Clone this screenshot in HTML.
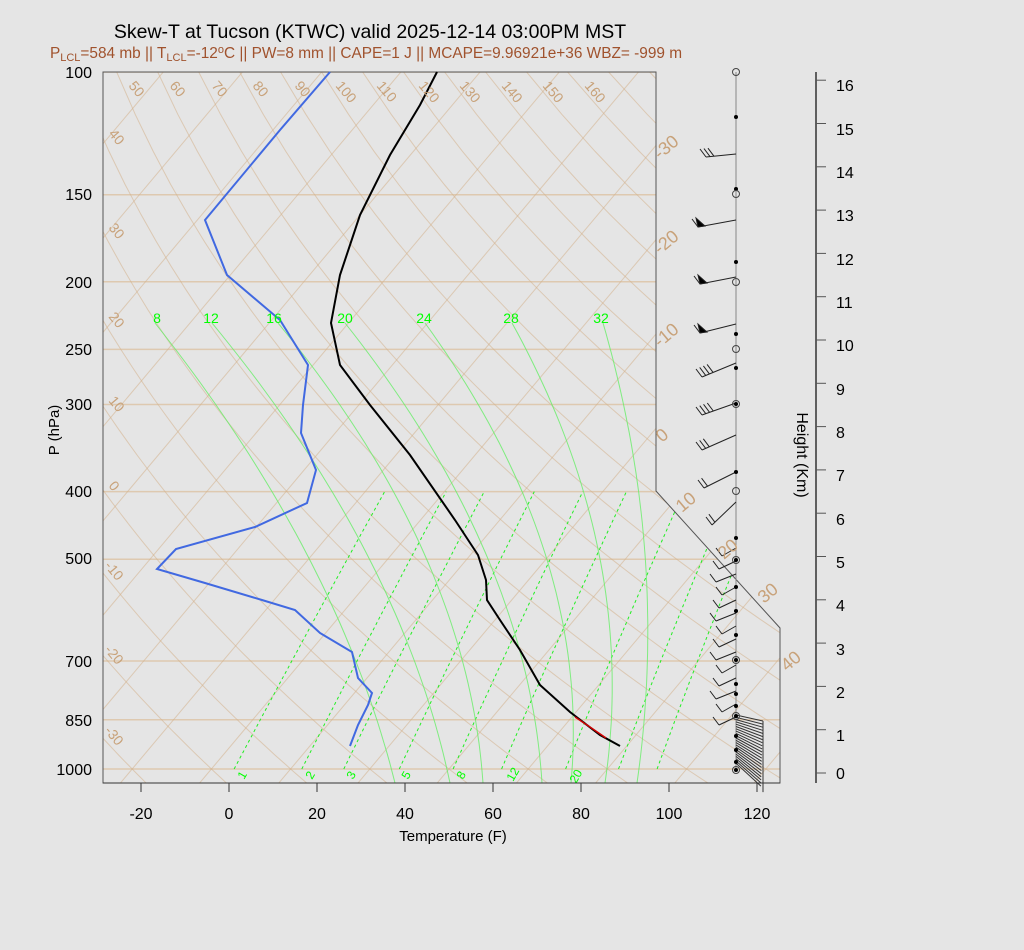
<!DOCTYPE html>
<html><head><meta charset="utf-8"><style>
body{margin:0;background:#e5e5e5;}
svg{display:block;font-family:"Liberation Sans",sans-serif;}
</style></head><body>
<svg id="s" width="1024" height="950" viewBox="0 0 1024 950" xmlns="http://www.w3.org/2000/svg">
<rect width="1024" height="950" fill="#e5e5e5"/>
<defs><clipPath id="cp"><polygon points="103,72 656,72 656,491 780,628 780,783 103,783"/></clipPath></defs>
<g id="grid" clip-path="url(#cp)"></g>
<polygon points="103,72 656,72 656,491 780,628 780,783 103,783" fill="none" stroke="#555" stroke-width="1"/>
<line x1="736" y1="72" x2="736" y2="772" stroke="#888" stroke-width="1"/>
<g id="barbs" stroke="#222" stroke-width="1" fill="none"></g>
<polyline fill="none" stroke="#4169e1" stroke-width="2" points="330,72 280,130 205,220 227,275 280,320 308,365 303,405 301,433 316,470 307,503 255,527 176,549 157,569 205,583 262,600 295,610 320,633 352,652 358,678 372,693 368,705 358,725 350,746"/>
<polyline fill="none" stroke="#000" stroke-width="2" points="437,72 420,105 390,155 360,215 340,275 331,323 340,365 370,405 410,455 455,520 478,555 486,580 487,600 500,620 520,650 540,685 570,712 600,735 620,746"/>
<polyline fill="none" stroke="#d00000" stroke-width="1.5" points="575,717 590,727 606,738"/>
<g fill="#c8a27a" font-size="14">
<text transform="translate(128,86) rotate(50)">50</text>
<text transform="translate(169,86) rotate(50)">60</text>
<text transform="translate(211,86) rotate(50)">70</text>
<text transform="translate(252,86) rotate(50)">80</text>
<text transform="translate(294,86) rotate(50)">90</text>
<text transform="translate(335,86) rotate(50)">100</text>
<text transform="translate(376,86) rotate(50)">110</text>
<text transform="translate(418,86) rotate(50)">120</text>
<text transform="translate(459,86) rotate(50)">130</text>
<text transform="translate(501,86) rotate(50)">140</text>
<text transform="translate(542,86) rotate(50)">150</text>
<text transform="translate(584,86) rotate(50)">160</text>
<text transform="translate(108,134) rotate(50)">40</text>
<text transform="translate(108,228) rotate(50)">30</text>
<text transform="translate(108,317) rotate(50)">20</text>
<text transform="translate(108,401) rotate(50)">10</text>
<text transform="translate(108,486) rotate(50)">0</text>
<text transform="translate(104,566) rotate(50)">-10</text>
<text transform="translate(104,650) rotate(50)">-20</text>
<text transform="translate(104,731) rotate(50)">-30</text>
</g>
<g fill="#c8a27a" font-size="18">
<text transform="translate(660,160) rotate(-40)">-30</text>
<text transform="translate(660,255) rotate(-40)">-20</text>
<text transform="translate(660,348) rotate(-40)">-10</text>
<text transform="translate(662,443) rotate(-40)">0</text>
<text transform="translate(682,513) rotate(-40)">10</text>
<text transform="translate(724,560) rotate(-40)">20</text>
<text transform="translate(764,604) rotate(-40)">30</text>
<text transform="translate(787,672) rotate(-40)">40</text>
</g>
<g fill="#00ff00" font-size="14" text-anchor="middle">
<text x="157" y="323">8</text><text x="211" y="323">12</text><text x="274" y="323">16</text><text x="345" y="323">20</text><text x="424" y="323">24</text><text x="511" y="323">28</text><text x="601" y="323">32</text>
</g>
<g fill="#00ff00" font-size="12">
<text transform="translate(244,780) rotate(-60)">1</text>
<text transform="translate(312,780) rotate(-60)">2</text>
<text transform="translate(353,780) rotate(-60)">3</text>
<text transform="translate(408,780) rotate(-60)">5</text>
<text transform="translate(463,780) rotate(-60)">8</text>
<text transform="translate(513,782) rotate(-60)">12</text>
<text transform="translate(576,784) rotate(-60)">20</text>
</g>
<g stroke="#333" stroke-width="1">
<line x1="103" y1="783" x2="780" y2="783"/>
<line x1="141" y1="783" x2="141" y2="792"/><line x1="229" y1="783" x2="229" y2="792"/><line x1="317" y1="783" x2="317" y2="792"/><line x1="405" y1="783" x2="405" y2="792"/><line x1="493" y1="783" x2="493" y2="792"/><line x1="581" y1="783" x2="581" y2="792"/><line x1="669" y1="783" x2="669" y2="792"/><line x1="757" y1="783" x2="757" y2="792"/>
<line x1="816" y1="72" x2="816" y2="783" stroke-width="1.5"/>
</g>
<g id="hticks" stroke="#555"></g>
<g font-size="16" text-anchor="middle" fill="#000">
<text x="141" y="819">-20</text><text x="229" y="819">0</text><text x="317" y="819">20</text><text x="405" y="819">40</text><text x="493" y="819">60</text><text x="581" y="819">80</text><text x="669" y="819">100</text><text x="757" y="819">120</text>
</g>
<text x="453" y="841" font-size="15" text-anchor="middle">Temperature (F)</text>
<g font-size="16" text-anchor="end">
<text x="92" y="78">100</text><text x="92" y="200">150</text><text x="92" y="288">200</text><text x="92" y="355">250</text><text x="92" y="410">300</text><text x="92" y="497">400</text><text x="92" y="564">500</text><text x="92" y="667">700</text><text x="92" y="726">850</text><text x="92" y="775">1000</text>
</g>
<text transform="translate(59,430) rotate(-90)" font-size="15" text-anchor="middle">P (hPa)</text>
<text transform="translate(797,455) rotate(90)" font-size="16" text-anchor="middle">Height (Km)</text>
<text x="370" y="38" font-size="19.5" text-anchor="middle">Skew-T at Tucson (KTWC) valid 2025-12-14 03:00PM MST</text>
<text x="366" y="58" font-size="15.4" text-anchor="middle" fill="#a0522d">P<tspan font-size="11" dy="3">LCL</tspan><tspan dy="-3">=584 mb || T</tspan><tspan font-size="11" dy="3">LCL</tspan><tspan dy="-3">=-12</tspan><tspan font-size="11" dy="-5">o</tspan><tspan dy="5">C || PW=8 mm || CAPE=1 J || MCAPE=9.96921e+36 WBZ= -999 m</tspan></text>
<g font-size="16">
<text x="836" y="779">0</text><text x="836" y="741">1</text><text x="836" y="698">2</text><text x="836" y="655">3</text><text x="836" y="611">4</text><text x="836" y="568">5</text><text x="836" y="525">6</text><text x="836" y="481">7</text><text x="836" y="438">8</text><text x="836" y="395">9</text><text x="836" y="351">10</text><text x="836" y="308">11</text><text x="836" y="265">12</text><text x="836" y="221">13</text><text x="836" y="178">14</text><text x="836" y="135">15</text><text x="836" y="91">16</text>
</g>
</svg>
<script>
(function(){
var NS="http://www.w3.org/2000/svg";
function Y(p){return 72+302.7*Math.log(p/100);}
function X(tc,p){return 229+4.4*(tc*1.8+32)+0.84*(769-Y(p));}
var g=document.getElementById("grid");
function pl(pts,st,w,op,dash){var e=document.createElementNS(NS,"polyline");e.setAttribute("points",pts.map(function(q){return q[0].toFixed(1)+","+q[1].toFixed(1)}).join(" "));e.setAttribute("fill","none");e.setAttribute("stroke",st);e.setAttribute("stroke-width",w);e.setAttribute("stroke-opacity",op);if(dash)e.setAttribute("stroke-dasharray",dash);g.appendChild(e);}
[100,150,200,250,300,400,500,700,850,1000].forEach(function(p){pl([[100,Y(p)],[790,Y(p)]],"#dcc2a2",1.5,0.8);});
for(var t=-150;t<=60;t+=10){pl([[X(t,1060),Y(1060)],[X(t,95),Y(95)]],"#d4b08a",1,0.55);}
for(var th=-40;th<=180;th+=10){var a=[];for(var p=1060;p>=95;p-=15){var T=(th+273.15)*Math.pow(p/1000,0.286)-273.15;a.push([X(T,p),Y(p)]);}pl(a,"#d4b08a",1,0.55);}
[1,2,3,5,8,12,20,30,40].forEach(function(w){var a=[];for(var p=1000;p>=400;p-=20){var e=w*p/(622+w),l=Math.log(e/6.112),T=243.5*l/(17.67-l);a.push([X(T,p),Y(p)]);}pl(a,"#22ee22",1,1,"3,3");});
var M=[[395,265,155],[450,325,212],[483,387,278],[542,450,345],[571,517,425],[605,580,512],[637,637,603]];
M.forEach(function(m){var x0=m[0],x1=m[1],x2=m[2],d1=303,d2=460;
 var A=(x1-x0)/d1,Bv=(x2-x0)/d2;var c2=(Bv-A)/(d2-d1),c1=A-c2*d1;
 var pts=[];for(var d=0;d<=460;d+=10){pts.push([x0+c1*d+c2*d*d,783-d]);}pl(pts,"#66ee66",1,0.8);});
var ht=document.getElementById("hticks");
for(var k=0;k<=16;k++){var y=773-k*43.3;var l=document.createElementNS(NS,"line");l.setAttribute("x1",816);l.setAttribute("x2",826);l.setAttribute("y1",y);l.setAttribute("y2",y);ht.appendChild(l);}
var B=document.getElementById("barbs");
function ln(x1,y1,x2,y2,c){var l=document.createElementNS(NS,"line");l.setAttribute("x1",x1);l.setAttribute("y1",y1);l.setAttribute("x2",x2);l.setAttribute("y2",y2);if(c)l.setAttribute("stroke",c);B.appendChild(l);}
function barb(y,x2,y2,n,flag){ln(736,y,x2,y2);var dx=736-x2,dy=y-y2,L=Math.hypot(dx,dy),ux=dx/L,uy=dy/L;for(var j=0;j<n;j++){var bx=x2+ux*j*4,by=y2+uy*j*4;ln(bx,by,bx-6,by-8);}if(flag){var p=document.createElementNS(NS,"polygon");p.setAttribute("points",x2+","+y2+" "+(x2-2)+","+(y2-9)+" "+(x2+7)+","+(y2-1));p.setAttribute("fill","#000");B.appendChild(p);}}
barb(154,706,157,3,0);barb(220,698,227,1,1);barb(277,700,284,1,1);barb(324,700,333,1,1);barb(363,702,377,4,0);barb(403,702,415,4,0);barb(435,702,450,3,0);barb(472,704,488,2,0);barb(502,712,525,2,0);
for(var k=0;k<14;k++){var y=548+k*13;barb(y,722-(k%3)*3,y+8,1,0);}
for(var k=0;k<22;k++){var y=715+k*2.3;ln(736,y,763-k*0.1,y+6+k*0.8,"#333");ln(763,y+6+k*0.8,763,y+12+k*0.8,"#333");}
function dot(y,r,f){var c=document.createElementNS(NS,"circle");c.setAttribute("cx",736);c.setAttribute("cy",y);c.setAttribute("r",r);c.setAttribute("fill",f?"#000":"none");c.setAttribute("stroke",f?"none":"#444");B.appendChild(c);}
[117,189,262,334,368,404,472,538,560,587,611,635,660,684,694,706,716,736,750,762,770].forEach(function(y){dot(y,2,1);});
[72,194,282,349,404,491,560,660,716,770].forEach(function(y){dot(y,3.5,0);});
})();
</script>
</body></html>
